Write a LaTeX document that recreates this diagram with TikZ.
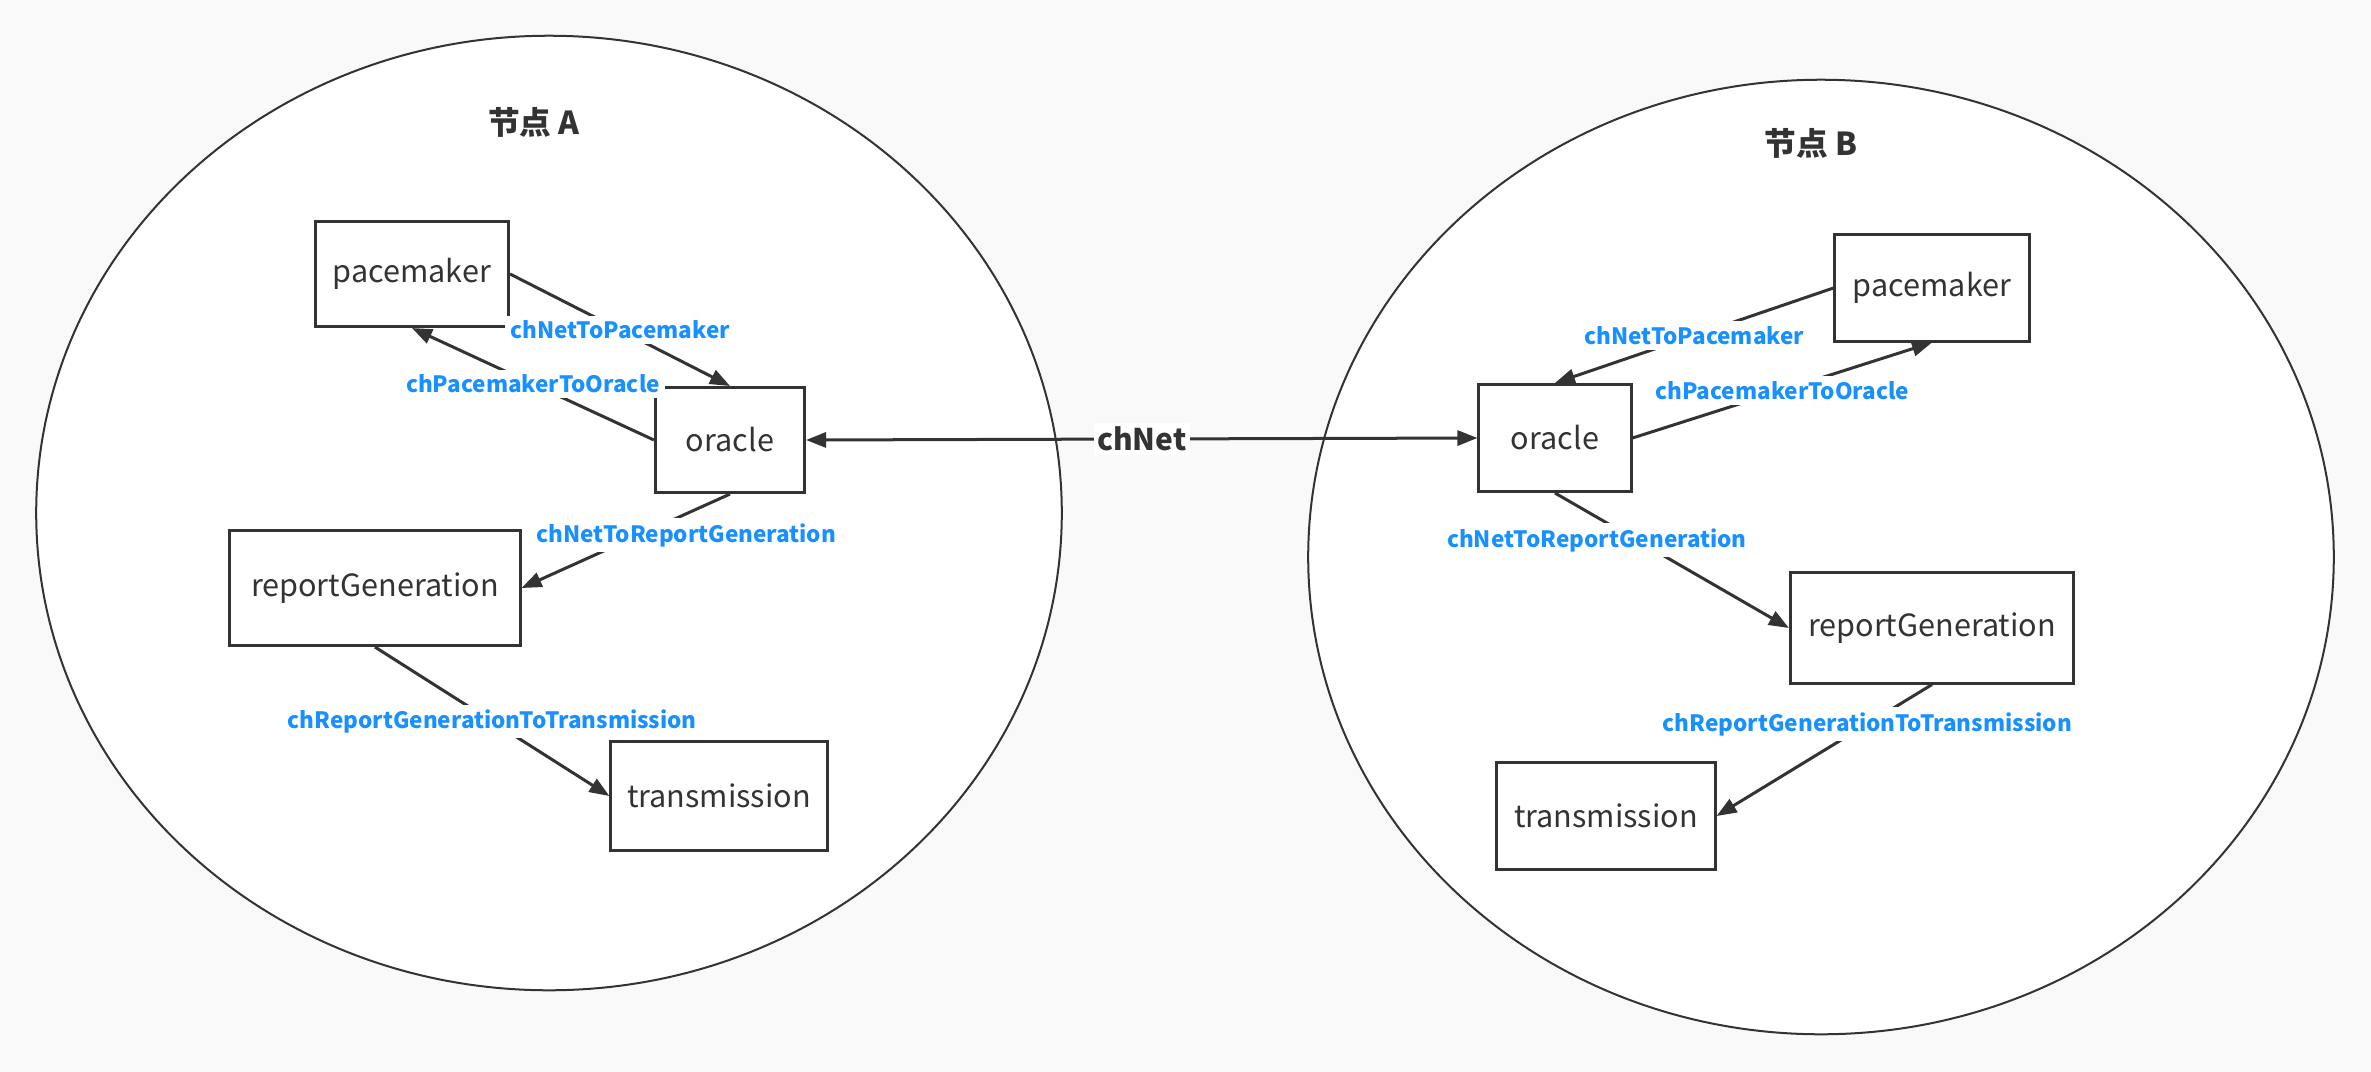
\documentclass[tikz,border=0pt]{standalone}
\usepackage{fontspec}
\setmainfont{Noto Sans CJK SC}
\usetikzlibrary{arrows.meta,shapes.geometric}
\definecolor{ink}{HTML}{333333}
\definecolor{chblue}{HTML}{1890FF}
\definecolor{paper}{HTML}{F9F9F9}

\begin{document}
\begin{tikzpicture}[x=0.01cm, y=-0.01cm,
  >={Triangle[length=0.2cm,width=0.15cm]},
  zone/.style={draw=ink, line width=0.02cm, ellipse, fill=white, inner sep=0pt, minimum width=10.25cm, minimum height=9.54cm},
  zonetitle/.style={text=ink, font=\fontsize{9}{11}\selectfont\bfseries},
  box/.style={draw=ink, line width=0.03cm, rectangle, fill=white, text=ink, inner sep=0pt, font=\fontsize{8.7}{10}\selectfont},
  link/.style={->, draw=ink, line width=0.03cm},
  lbl/.style={fill=white, text=chblue, inner sep=1.5pt, font=\fontsize{6.4}{8}\selectfont\bfseries}]
\fill[paper] (0,0) rectangle (2371,1072);
\useasboundingbox (0,0) rectangle (2371,1072);

% Node A
\node[zone] (zoneA) at (549,513) {};
\node[zonetitle] (titleA) at (534,122) {节点 A};
\node[box, minimum width=1.93cm, minimum height=1.05cm] (pmA) at (412,274) {pacemaker};
\node[box, minimum width=1.49cm, minimum height=1.05cm] (orA) at (730,440) {oracle};
\node[box, minimum width=2.90cm, minimum height=1.15cm] (rgA) at (375,588) {reportGeneration};
\node[box, minimum width=2.16cm, minimum height=1.08cm] (trA) at (719,796) {transmission};

% Node B
\node[zone] (zoneB) at (1821,557) {};
\node[zonetitle] (titleB) at (1811,143) {节点 B};
\node[box, minimum width=1.94cm, minimum height=1.06cm] (pmB) at (1932,288) {pacemaker};
\node[box, minimum width=1.52cm, minimum height=1.07cm] (orB) at (1555,438) {oracle};
\node[box, minimum width=2.83cm, minimum height=1.10cm] (rgB) at (1932,628) {reportGeneration};
\node[box, minimum width=2.18cm, minimum height=1.07cm] (trB) at (1606,816) {transmission};

% Channels inside A
\draw[link] (pmA.east) -- (orA.north) node[lbl, midway] {chNetToPacemaker};
\draw[link] (orA.west) -- (pmA.south) node[lbl, midway] {chPacemakerToOracle};
\draw[link] (orA.south) -- (rgA.east) node[lbl, pos=0.44, xshift=0.48cm] {chNetToReportGeneration};
\draw[link] (rgA.south) -- (trA.west) node[lbl, midway] {chReportGenerationToTransmission};

% Channels inside B
\draw[link] (pmB.west) -- (orB.north) node[lbl, midway] {chNetToPacemaker};
\draw[link] (orB.east) -- (pmB.south) node[lbl, midway] {chPacemakerToOracle};
\draw[link] (orB.south) -- (rgB.west) node[lbl, pos=0.35, xshift=-0.4cm] {chNetToReportGeneration};
\draw[link] (rgB.south) -- (trB.east) node[lbl, pos=0.3] {chReportGenerationToTransmission};

% Network between the nodes
\draw[link, <->] (orA.east) -- (orB.west) node[midway, fill=white, text=ink, inner sep=1pt, font=\fontsize{8.5}{10}\selectfont\bfseries] (net) {chNet};
\end{tikzpicture}
\end{document}
